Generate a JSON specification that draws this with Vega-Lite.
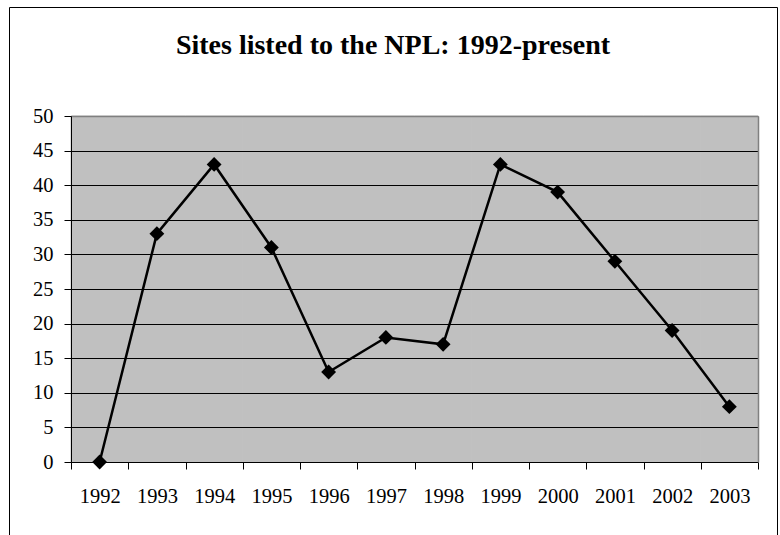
{
  "$schema": "https://vega.github.io/schema/vega-lite/v6.json",
  "autosize": "none",
  "width": 768,
  "height": 533,
  "padding": {"left": 9, "top": 7, "right": 3, "bottom": -5},
  "background": "white",
  "title": {
    "text": "Sites listed to the NPL: 1992-present",
    "font": "Liberation Serif",
    "fontSize": 28,
    "fontWeight": "bold",
    "color": "black",
    "anchor": "middle",
    "frame": "group",
    "baseline": "alphabetic",
    "offset": -75
  },
  "data": {
    "values": [
      {"year": "1992", "sites": 0},
      {"year": "1993", "sites": 33},
      {"year": "1994", "sites": 43},
      {"year": "1995", "sites": 31},
      {"year": "1996", "sites": 13},
      {"year": "1997", "sites": 18},
      {"year": "1998", "sites": 17},
      {"year": "1999", "sites": 43},
      {"year": "2000", "sites": 39},
      {"year": "2001", "sites": 29},
      {"year": "2002", "sites": 19},
      {"year": "2003", "sites": 8}
    ]
  },
  "layer": [
    {
      "mark": {"type": "rect", "color": "#C0C0C0", "stroke": "#C0C0C0", "strokeWidth": 1},
      "encoding": {
        "x": {
          "field": "year",
          "type": "ordinal",
          "scale": {"type": "band", "range": [62, 749], "paddingInner": 0, "paddingOuter": 0},
          "axis": {
            "orient": "bottom",
            "offset": -78,
            "zindex": 1,
            "title": null,
            "labelAngle": 0,
            "tickBand": "extent",
            "tickSize": 7,
            "tickColor": "black",
            "domainColor": "black",
            "labelFont": "Liberation Serif",
            "labelFontSize": 20.5,
            "labelColor": "black",
            "labelPadding": 17,
            "grid": false
          }
        },
        "y": {
          "datum": 50,
          "type": "quantitative",
          "scale": {"domain": [0, 50], "range": [455, 109], "nice": false, "zero": true},
          "axis": {
            "orient": "left",
            "offset": -62,
            "zindex": 1,
            "title": null,
            "values": [0, 5, 10, 15, 20, 25, 30, 35, 40, 45, 50],
            "tickSize": 7,
            "tickColor": "black",
            "domainColor": "black",
            "labelFont": "Liberation Serif",
            "labelFontSize": 20.5,
            "labelColor": "black",
            "labelPadding": 11,
            "grid": true,
            "gridColor": {"condition": {"test": "datum.value === 50", "value": "#808080"}, "value": "black"},
            "gridWidth": 1,
            "gridOpacity": 1
          }
        },
        "y2": {"datum": 0}
      }
    },
    {
      "mark": {"type": "line", "color": "black", "strokeWidth": 2.5},
      "encoding": {
        "x": {"field": "year", "type": "ordinal", "axis": null},
        "y": {"field": "sites", "type": "quantitative", "axis": null}
      }
    },
    {
      "mark": {"type": "point", "shape": "diamond", "filled": true, "color": "black", "opacity": 1, "size": 220},
      "encoding": {
        "x": {
          "field": "year",
          "type": "ordinal",
          "axis": {"orient": "top", "offset": -109, "zindex": 1, "title": null, "labels": false, "ticks": false, "grid": false, "domainColor": "#808080", "domainWidth": 1.5}
        },
        "y": {
          "field": "sites",
          "type": "quantitative",
          "axis": {"orient": "right", "offset": -19, "zindex": 1, "title": null, "labels": false, "ticks": false, "grid": false, "domainColor": "#808080", "domainWidth": 1.5}
        }
      }
    }
  ],
  "resolve": {"axis": {"x": "independent", "y": "independent"}},
  "config": {
    "view": {"stroke": "black", "strokeWidth": 1, "fill": "white"},
    "axis": {"labelFontWeight": "normal"}
  }
}
